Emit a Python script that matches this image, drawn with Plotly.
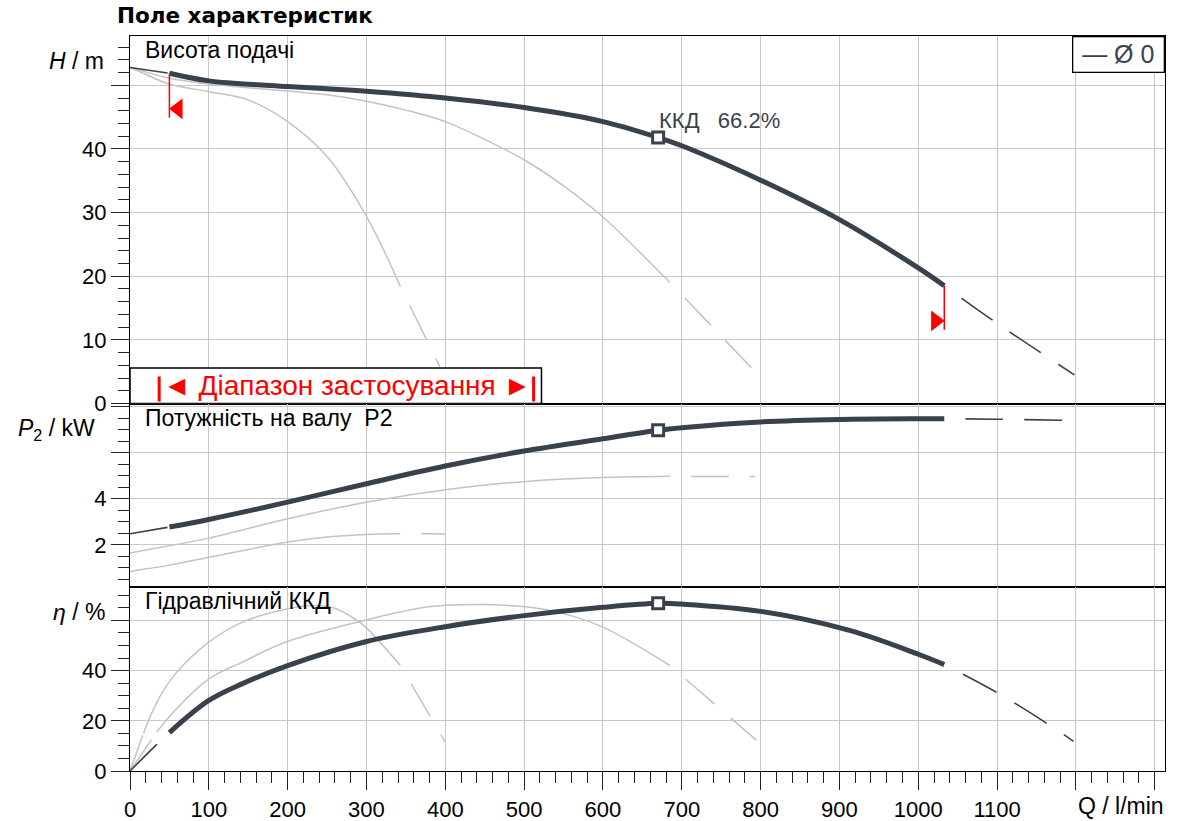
import plotly.graph_objects as go
from plotly.subplots import make_subplots

DARK = "#39424c"
GRAY = "#c3c3c3"
RED = "#ff0000"
FONT = "Liberation Sans, Arial, sans-serif"

# --- impeller Ø 0 (dark curve) ---
d_q_h = [0, 50, 100, 200, 250, 300, 400, 500, 600, 670, 700, 800, 900, 1000, 1033, 1100, 1198]
d_h = [52.8, 51.9, 50.7, 49.8, 49.45, 49.05, 48.0, 46.5, 44.3, 41.8, 40.5, 35.1, 28.9, 21.3, 18.5, 12.6, 4.5]
d_q_p = [0, 50, 100, 200, 300, 400, 500, 600, 670, 700, 800, 900, 1000, 1033, 1100, 1185]
d_p = [2.48, 2.77, 3.1, 3.85, 4.65, 5.42, 6.07, 6.6, 6.97, 7.08, 7.33, 7.44, 7.47, 7.47, 7.45, 7.40]
d_q_eta = [0, 34, 50, 100, 142, 200, 300, 400, 500, 600, 670, 700, 800, 914, 1000, 1033, 1100, 1166, 1197]
d_eta = [0, 10.6, 15.3, 28.1, 34.7, 42.0, 51.6, 57.5, 61.9, 65.2, 66.8, 66.5, 63.6, 55.9, 46.5, 42.4, 31.2, 18.4, 11.8]
d_range = [50, 1033]

# --- smaller impeller 1 (grey) ---
g1_q_h = [0, 17, 50, 100, 150, 200, 250, 300, 343, 393]
g1_h = [52.8, 51.9, 50.2, 49.0, 47.7, 44.3, 38.8, 29.4, 18.4, 5.8]
g1_q_p = [0, 17, 50, 100, 150, 200, 250, 300, 343, 400]
g1_p = [0.84, 0.94, 1.12, 1.46, 1.8, 2.12, 2.34, 2.45, 2.48, 2.47]
g1_q_eta = [0, 17, 36, 57, 100, 142, 200, 230, 258, 288, 300, 343, 400]
g1_eta = [0, 15, 28.5, 38.5, 51.3, 59.2, 64.6, 65.9, 65.0, 60.0, 57.0, 42.0, 11.5]
g1_range = [17, 343]

# --- smaller impeller 2 (grey) ---
g2_q_h = [0, 34, 50, 100, 200, 250, 300, 350, 400, 450, 500, 550, 600, 685, 740, 793]
g2_h = [52.8, 51.6, 51.1, 50.2, 49.1, 48.5, 47.5, 46.1, 44.3, 41.5, 38.3, 34.2, 29.3, 19.0, 11.9, 5.0]
g2_q_p = [0, 34, 100, 200, 300, 400, 450, 500, 550, 600, 685, 793]
g2_p = [1.65, 1.86, 2.29, 3.13, 3.85, 4.39, 4.6, 4.74, 4.85, 4.92, 4.97, 4.96]
g2_q_eta = [0, 34, 57, 100, 142, 197, 300, 381, 444, 508, 550, 600, 685, 795]
g2_eta = [0, 15.5, 24.1, 36.7, 43.3, 51.3, 60.2, 65.5, 66.3, 65.2, 62.7, 57.3, 42.0, 12.2]
g2_range = [34, 685]

# duty point (best efficiency)
bep_q = 670
bep_h = 41.8
bep_p = 6.97
bep_eta = 66.8
bep_label = "ККД   66.2%"

x_ticks = [0, 100, 200, 300, 400, 500, 600, 700, 800, 900, 1000, 1100, 1200, 1300]
x_text = [str(v) for v in x_ticks[:12]] + [" ", " "]

fig = make_subplots(rows=3, cols=1, shared_xaxes=True, vertical_spacing=0,
                    row_heights=[0.5, 0.25, 0.25])


def add_curve(q, v, rng, row, color, wmain, wthin):
    lo, hi = rng
    pre = [(a, b) for a, b in zip(q, v) if a <= lo]
    mid = [(a, b) for a, b in zip(q, v) if lo <= a <= hi]
    post = [(a, b) for a, b in zip(q, v) if a >= hi]
    parts = [(pre, wthin, "38px,21px"), (mid, wmain, "solid"), (post, wthin, "0px,21px,38px,0px")]
    for pts, w, dash in parts:
        if len(pts) < 2:
            continue
        fig.add_trace(go.Scatter(
            x=[p[0] for p in pts], y=[p[1] for p in pts], mode="lines",
            line=dict(color=color, width=w, dash=dash, shape="spline", smoothing=1.0),
            showlegend=False, hoverinfo="skip"), row=row, col=1)


for q, v, row in [(g1_q_h, g1_h, 1), (g1_q_p, g1_p, 2), (g1_q_eta, g1_eta, 3)]:
    add_curve(q, v, g1_range, row, GRAY, 1.5, 1.5)
for q, v, row in [(g2_q_h, g2_h, 1), (g2_q_p, g2_p, 2), (g2_q_eta, g2_eta, 3)]:
    add_curve(q, v, g2_range, row, GRAY, 1.5, 1.5)
for q, v, row in [(d_q_h, d_h, 1), (d_q_p, d_p, 2), (d_q_eta, d_eta, 3)]:
    add_curve(q, v, d_range, row, DARK, 5, 1.6)

# application range markers (red)
h_lo = d_h[d_q_h.index(d_range[0])]
h_hi = d_h[d_q_h.index(d_range[1])]
fig.add_trace(go.Scatter(x=[d_range[0], d_range[0]], y=[h_lo, h_lo - 7.0], mode="lines",
                         line=dict(color=RED, width=1.5), showlegend=False, hoverinfo="skip"), row=1, col=1)
fig.add_trace(go.Scatter(x=[d_range[1], d_range[1]], y=[h_hi, h_hi - 6.9], mode="lines",
                         line=dict(color=RED, width=1.5), showlegend=False, hoverinfo="skip"), row=1, col=1)
fig.add_trace(go.Scatter(x=[d_range[0] + 11], y=[h_lo - 5.6], mode="markers",
                         marker=dict(symbol="triangle-left", size=18, color=RED),
                         showlegend=False, hoverinfo="skip"), row=1, col=1)
fig.add_trace(go.Scatter(x=[d_range[1] - 11], y=[h_hi - 5.5], mode="markers",
                         marker=dict(symbol="triangle-right", size=18, color=RED),
                         showlegend=False, hoverinfo="skip"), row=1, col=1)

# duty point squares
for val, row in [(bep_h, 1), (bep_p, 2), (bep_eta, 3)]:
    fig.add_trace(go.Scatter(x=[bep_q], y=[val], mode="markers",
                             marker=dict(symbol="square", size=11, color="white",
                                         line=dict(color=DARK, width=3)),
                             showlegend=False, hoverinfo="skip"), row=row, col=1)

axis_common = dict(showline=True, mirror=True, linecolor="black", linewidth=1.2,
                   showgrid=True, gridcolor="#c8c8c8", gridwidth=1.2, zeroline=False,
                   automargin=False,
                   tickfont=dict(family=FONT, size=22, color="black"),
                   tickcolor="#222", tickwidth=1.3)

for r in (1, 2, 3):
    fig.update_xaxes(range=[0, 1313], tickvals=x_ticks, ticktext=x_text, row=r, col=1, **axis_common)
fig.update_xaxes(ticks="", showticklabels=False, row=1, col=1)
fig.update_xaxes(ticks="", showticklabels=False, row=2, col=1)
fig.update_xaxes(ticks="outside", ticklen=18, showticklabels=True,
                 minor=dict(ticks="outside", ticklen=11, dtick=20, tick0=0, tickcolor="#222", showgrid=False),
                 row=3, col=1)

fig.update_yaxes(range=[0, 57.75], tickvals=[0, 10, 20, 30, 40, 50], ticktext=["0", "10", "20", "30", "40", " "],
                 ticks="outside", ticklen=18,
                 minor=dict(ticks="outside", ticklen=11, dtick=2, tick0=0, tickcolor="#222", showgrid=False),
                 row=1, col=1, **axis_common)
fig.update_yaxes(range=[0.16, 8.13], tickvals=[2, 4, 6, 8], ticktext=["2", "4", " ", " "],
                 ticks="outside", ticklen=18,
                 minor=dict(ticks="outside", ticklen=11, dtick=0.5, tick0=0, tickcolor="#222", showgrid=False),
                 row=2, col=1, **axis_common)
fig.update_yaxes(range=[0, 73.2], tickvals=[0, 20, 40, 60], ticktext=["0", "20", "40", " "],
                 ticks="outside", ticklen=18,
                 minor=dict(ticks="outside", ticklen=11, dtick=5, tick0=0, tickcolor="#222", showgrid=False),
                 row=3, col=1, **axis_common)

# application range box
fig.add_shape(type="rect", x0=0, x1=522, y0=0, y1=5.56, xref="x", yref="y",
              line=dict(color="black", width=1.5), fillcolor="white", layer="above")
for xb in (37, 512):
    fig.add_shape(type="line", x0=xb, x1=xb, y0=0.3, y1=4.25, xref="x", yref="y",
                  line=dict(color=RED, width=3), layer="above")
fig.add_annotation(x=275, y=2.8, xref="x", yref="y", text="◄ Діапазон застосування ►",
                   showarrow=False, font=dict(family=FONT, size=28, color=RED))

# panel captions
for text, yref in [("Висота подачі", "y domain"), ("Потужність на валу  P2", "y2 domain"),
                   ("Гідравлічний ККД", "y3 domain")]:
    fig.add_annotation(x=0.013, y=1, xref="x domain", yref=yref, xanchor="left", yanchor="top",
                       yshift=1, text=text, showarrow=False,
                       font=dict(family=FONT, size=23, color="black"))

fig.add_annotation(x=bep_q, y=bep_h, xref="x", yref="y", xanchor="left", yanchor="bottom",
                   xshift=-1, yshift=3, text=bep_label, showarrow=False,
                   font=dict(family=FONT, size=22, color=DARK))

# legend box
fig.add_annotation(x=1, y=1, xref="paper", yref="paper", xanchor="right", yanchor="top",
                   text="— Ø 0", showarrow=False, bordercolor="black", borderwidth=1.3,
                   borderpad=3, bgcolor="white", width=84, height=28,
                   font=dict(family=FONT, size=25, color=DARK))


# axis labels
def px_x(px):
    return (px - 130) / 1035


def px_y(py):
    return (770.7 - py) / 734.7


for text, xr, yc in [("<i>H</i> / m", 106, 61), ("<i>P</i><sub>2</sub> / kW", 97, 429),
                     ("<i>η</i> / %", 107, 612)]:
    fig.add_annotation(x=px_x(xr), y=px_y(yc), xref="paper", yref="paper", xanchor="right",
                       yanchor="middle", text=text, showarrow=False,
                       font=dict(family=FONT, size=23, color="black"))
fig.add_annotation(x=px_x(1166), y=px_y(806), xref="paper", yref="paper", xanchor="right",
                   yanchor="middle", text="Q / l/min", showarrow=False,
                   font=dict(family=FONT, size=23, color="black"))

fig.update_layout(
    width=1178, height=821,
    margin=dict(l=130, r=13, t=36, b=50),
    paper_bgcolor="white", plot_bgcolor="white",
    title=dict(text="<b>Поле характеристик</b>", x=117 / 1178, xanchor="left",
               y=1 - 15 / 821, yanchor="middle", xref="container",
               font=dict(family="DejaVu Sans", size=21.5, color="black")),
    showlegend=False,
)

fig.write_html("out.html", config={"displayModeBar": False},
               post_script="document.body.style.margin = '0px';")
